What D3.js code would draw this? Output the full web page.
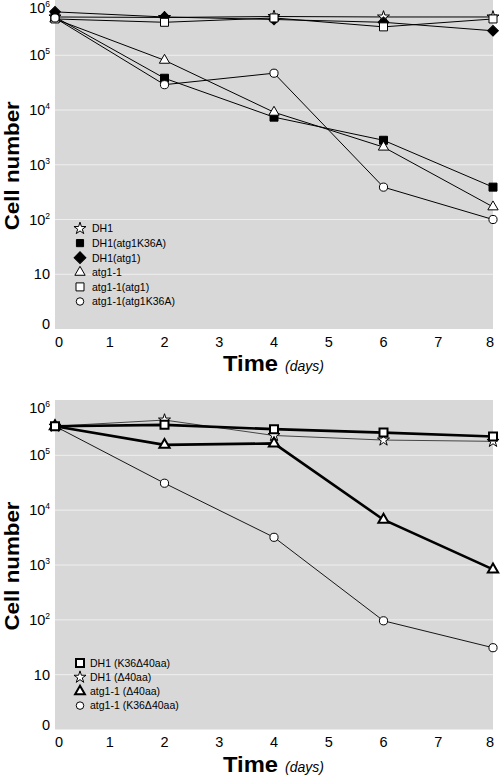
<!DOCTYPE html>
<html><head><meta charset="utf-8">
<script src="https://cdn.jsdelivr.net/npm/d3@7"></script>
<style>
body{margin:0;background:#fff;}
svg text{font-family:"Liberation Sans",Arial,Helvetica,sans-serif;}
</style></head>
<body>
<svg id="c" width="500" height="776"></svg>
<script>
// ---------- data ----------
const days = [0, 2, 4, 6, 8];
const xTicks = [0, 1, 2, 3, 4, 5, 6, 7, 8];
const yTicks = [1, 10, 100, 1e3, 1e4, 1e5, 1e6];
const yTickLabels = [["0", ""], ["10", ""], ["10", "2"], ["10", "3"], ["10", "4"], ["10", "5"], ["10", "6"]];

// top panel
const topNames = ["DH1", "DH1(atg1K36A)", "DH1(atg1)", "atg1-1", "atg1-1(atg1)", "atg1-1(atg1K36A)"];
const dh1 = [5.0e5, 4.9e5, 5.1e5, 5.0e5, 5.0e5];
const dh1K36A = [5.0e5, 3.8e4, 7.4e3, 2.8e3, 390];
const dh1Atg1 = [6.2e5, 5.0e5, 4.5e5, 4.0e5, 2.8e5];
const atg1_1 = [4.6e5, 8.1e4, 9.1e3, 2.1e3, 170];
const atg1_1Atg1 = [4.6e5, 4.0e5, 4.8e5, 3.3e5, 4.6e5];
const atg1_1K36A = [4.8e5, 2.9e4, 4.7e4, 390, 100];

// bottom panel
const botNames = ["DH1 (K36\u039440aa)", "DH1 (\u039440aa)", "atg1-1 (\u039440aa)", "atg1-1 (K36\u039440aa)"];
const dh1K36D40 = [3.4e5, 3.6e5, 3.0e5, 2.6e5, 2.2e5];
const dh1D40 = [3.4e5, 4.4e5, 2.3e5, 1.9e5, 1.8e5];
const atg1_1D40 = [3.4e5, 1.55e5, 1.65e5, 6.7e3, 830];
const atg1_1K36D40 = [3.4e5, 3.1e4, 3.2e3, 96, 31];

// ---------- drawing ----------
const svg = d3.select("#c");
const L = 55, R = 493;
const x = d3.scaleLinear().domain([0, 8]).range([L, R]);

const sym = {
  star:    {type: d3.symbolStar, size: 45, rot: 0},
  square:  {type: d3.symbolSquare, size: 64, rot: 0},
  diamond: {type: d3.symbolSquare, size: 58, rot: 45},
  triangle:{type: d3.symbolTriangle, size: 46, rot: 0},
  circle:  {type: d3.symbolCircle, size: 52, rot: 0}
};

function marker(g, shape, fill, sw, cx, cy, scale) {
  const s = sym[shape];
  g.append("path")
    .attr("d", d3.symbol().type(s.type).size(s.size * (scale || 1))())
    .attr("transform", `translate(${cx},${cy}) rotate(${s.rot})`)
    .attr("fill", fill).attr("stroke", "#000").attr("stroke-width", sw);
}

function panel(top, bottom, series, legend) {
  const y = d3.scaleLog().domain([1, 1e6]).range([bottom, top]);
  const g = svg.append("g");
  g.append("rect").attr("x", L).attr("y", top - 0.5).attr("width", R - L).attr("height", bottom - top + 0.5)
    .attr("fill", "#d8d8d8");
  // gridlines
  g.selectAll(".grid").data(yTicks.slice(1, -1)).join("line")
    .attr("x1", L).attr("x2", R)
    .attr("y1", d => y(d)).attr("y2", d => y(d))
    .attr("stroke", "#efefef").attr("stroke-width", 1);
  // y tick labels
  yTicks.forEach((t, i) => {
    let yy = y(t);
    if (i === yTicks.length - 1) yy = top + 7.5;
    if (i === 0) yy = bottom - 5;
    const tx = g.append("text").attr("x", 50).attr("y", yy + 5)
      .attr("text-anchor", "end").attr("font-size", 14.5).attr("fill", "#000");
    tx.append("tspan").text(yTickLabels[i][0]);
    if (yTickLabels[i][1]) tx.append("tspan").attr("font-size", 8.5).attr("dy", -6).text(yTickLabels[i][1]);
  });
  // x tick labels
  xTicks.forEach((t, i) => {
    let xx = x(t);
    if (i === 0) xx += 4;
    if (i === xTicks.length - 1) xx -= 3;
    g.append("text").attr("x", xx).attr("y", bottom + 17.5).attr("text-anchor", "middle")
      .attr("font-size", 14.5).text(t);
  });
  // axis titles
  g.append("text").attr("x", 223).attr("y", bottom + 42).attr("font-weight", 900)
    .attr("font-size", 22).attr("textLength", 55).attr("lengthAdjust", "spacingAndGlyphs").text("Time");
  g.append("text").attr("x", 285).attr("y", bottom + 42).attr("font-style", "italic")
    .attr("font-size", 14).text("(days)");
  const cy = (top + bottom) / 2 + 1;
  g.append("text").attr("transform", `translate(19,${cy}) rotate(-90)`).attr("text-anchor", "middle")
    .attr("font-weight", 900).attr("font-size", 20).attr("textLength", 129)
    .attr("lengthAdjust", "spacingAndGlyphs").text("Cell number");

  const line = d3.line().x((d, i) => x(days[i])).y(d => y(d));
  series.forEach(s => {
    g.append("path").datum(s.values).attr("d", line).attr("fill", "none")
      .attr("stroke", s.lineColor || "#000").attr("stroke-width", s.lw);
  });
  series.forEach(s => {
    s.values.forEach((v, i) => marker(g, s.shape, s.fill, s.msw, x(days[i]), y(v)));
  });
  // legend
  legend.items.forEach((s, i) => {
    const ly = legend.y0 + i * legend.dy;
    marker(g, s.shape, s.fill, s.msw, 80, ly, s.legScale || 1);
    g.append("text").attr("x", legend.tx).attr("y", ly + 3.8).attr("font-size", 10.5).text(s.name);
  });
}

const topSeries = [
  {name: topNames[0], values: dh1, shape: "star", fill: "#fff", lw: 1, msw: 1},
  {name: topNames[1], values: dh1K36A, shape: "square", fill: "#000", lw: 1, msw: 1},
  {name: topNames[2], values: dh1Atg1, shape: "diamond", fill: "#000", lw: 1, msw: 1},
  {name: topNames[3], values: atg1_1, shape: "triangle", fill: "#fff", lw: 1, msw: 1},
  {name: topNames[4], values: atg1_1Atg1, shape: "square", fill: "#fff", lw: 1, msw: 1},
  {name: topNames[5], values: atg1_1K36A, shape: "circle", fill: "#fff", lw: 1, msw: 1}
];
const topLegend = topSeries.map(s => Object.assign({}, s));
topLegend[1].legScale = 0.8;
topLegend[2].legScale = 1.2;
topLegend[5].legScale = 0.85;
panel(0.5, 329, topSeries, {items: topLegend, y0: 228.5, dy: 14.6, tx: 92});

const botSeries = [
  {name: botNames[1], values: dh1D40, shape: "star", fill: "#fff", lw: 1, msw: 1, lineColor: "#444"},
  {name: botNames[3], values: atg1_1K36D40, shape: "circle", fill: "#fff", lw: 0.9, msw: 1},
  {name: botNames[2], values: atg1_1D40, shape: "triangle", fill: "#fff", lw: 2.6, msw: 2},
  {name: botNames[0], values: dh1K36D40, shape: "square", fill: "#fff", lw: 2.6, msw: 2}
];
const botLegend = [botSeries[3], botSeries[0], botSeries[2], botSeries[1]].map(s => Object.assign({}, s));
botLegend[2].legScale = 0.9;
botLegend[3].legScale = 0.85;
panel(400.5, 729.5, botSeries, {items: botLegend, y0: 663, dy: 14.2, tx: 90});
</script>
</body></html>
